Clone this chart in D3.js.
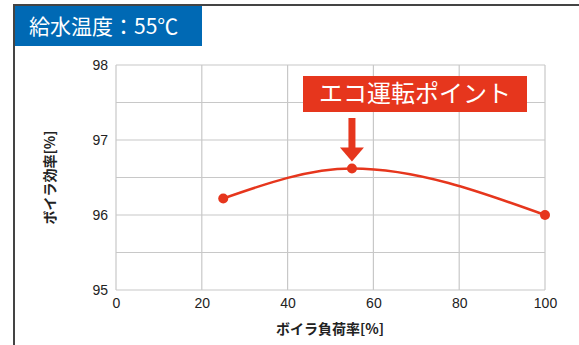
<!DOCTYPE html>
<html>
  <head>
    <meta charset="UTF-8">
    <style>
      body { margin: 0; background: white; font-family: "Liberation Sans", Arial, "Noto Sans CJK JP", sans-serif; }
      .tick text { font-size: 14px; fill: #222; font-family: "Liberation Sans", Arial, sans-serif; }
      .grid line { stroke: #c8c8c8; stroke-width: 1.2; }
      .domain { display: none; }
    </style>
    <script src="https://d3js.org/d3.v7.min.js"></script>
  </head>
  <body>
    <svg id="chart"></svg>
    <script>
      let loadRates = [25, 55, 100]
      let efficiencies = [96.22, 96.62, 96.0]
      let xTicks = [0, 20, 40, 60, 80, 100]
      let yTicks = [95, 96, 97, 98]
      let yGrid = [95, 95.5, 96, 96.5, 97, 97.5, 98]
      let titleText = '給水温度：55℃'
      let calloutText = 'エコ運転ポイント'
      let xLabel = 'ボイラ負荷率[%]'
      let yLabel = 'ボイラ効率[%]'
      let ecoIndex = 1

      let width = 579, height = 345
      let margin = { left: 116, right: 34, top: 65, bottom: 55 }
      let red = '#e6361d', blue = '#0069b4'

      let svg = d3.select('#chart').attr('width', width).attr('height', height)

      // frame
      svg.append('path')
        .attr('d', `M14,${height} L14,5 L${width},5`)
        .attr('fill', 'none').attr('stroke', '#444').attr('stroke-width', 2)

      svg.append('rect').attr('x', 15).attr('y', 6).attr('width', 187).attr('height', 40).attr('fill', blue)
      svg.append('text').attr('x', 29).attr('y', 34)
        .attr('fill', 'white').attr('font-size', 21)
        .style('font-family', '"Noto Sans CJK JP", sans-serif')
        .text(titleText)

      let x = d3.scaleLinear().domain([0, 100]).range([margin.left, width - margin.right])
      let y = d3.scaleLinear().domain([95, 98]).range([height - margin.bottom, margin.top])

      // grid
      let grid = svg.append('g').attr('class', 'grid')
      grid.selectAll('.v').data(xTicks).enter().append('line')
        .attr('x1', d => x(d)).attr('x2', d => x(d)).attr('y1', y(95)).attr('y2', y(98))
      grid.selectAll('.h').data(yGrid).enter().append('line')
        .attr('y1', d => y(d)).attr('y2', d => y(d)).attr('x1', x(0)).attr('x2', x(100))

      svg.append('g')
        .attr('transform', `translate(0, ${y(95)})`)
        .call(d3.axisBottom(x).tickValues(xTicks).tickSize(0).tickPadding(8))
      svg.append('g')
        .attr('transform', `translate(${x(0)}, 0)`)
        .call(d3.axisLeft(y).tickValues(yTicks).tickFormat(d3.format('d')).tickSize(0).tickPadding(8))

      let data = loadRates.map((d, i) => ({ rate: d, eff: efficiencies[i] }))

      svg.append('path').datum(data)
        .attr('d', d3.line().x(d => x(d.rate)).y(d => y(d.eff)).curve(d3.curveMonotoneX))
        .attr('fill', 'none').attr('stroke', red).attr('stroke-width', 2.5)

      svg.selectAll('.pt').data(data).enter().append('circle')
        .attr('cx', d => x(d.rate)).attr('cy', d => y(d.eff)).attr('r', 5).attr('fill', red)

      // callout
      let eco = data[ecoIndex]
      let ax = x(eco.rate), ay = y(eco.eff)
      svg.append('rect').attr('x', 303).attr('y', 76).attr('width', 224).attr('height', 36).attr('fill', red)
      svg.append('text').attr('x', 415).attr('y', 102).attr('text-anchor', 'middle')
        .attr('fill', 'white').attr('font-size', 24)
        .style('font-family', '"Noto Sans CJK JP", sans-serif')
        .text(calloutText)
      svg.append('rect').attr('x', ax - 3.5).attr('y', 118).attr('width', 7).attr('height', ay - 118 - 17).attr('fill', red)
      svg.append('path')
        .attr('d', `M${ax - 12},${ay - 21} L${ax + 12},${ay - 21} L${ax},${ay - 7} Z`)
        .attr('fill', red)

      svg.append('text').attr('x', 330).attr('y', 334).attr('text-anchor', 'middle')
        .attr('font-size', 14).attr('font-weight', 'bold').attr('fill', '#222')
        .style('font-family', '"Noto Sans CJK JP", sans-serif')
        .text(xLabel)
      svg.append('text')
        .attr('transform', `translate(55, ${(y(95) + y(98)) / 2}) rotate(-90)`)
        .attr('text-anchor', 'middle')
        .attr('font-size', 14).attr('font-weight', 'bold').attr('fill', '#222')
        .style('font-family', '"Noto Sans CJK JP", sans-serif')
        .text(yLabel)
    </script>
  </body>
</html>
